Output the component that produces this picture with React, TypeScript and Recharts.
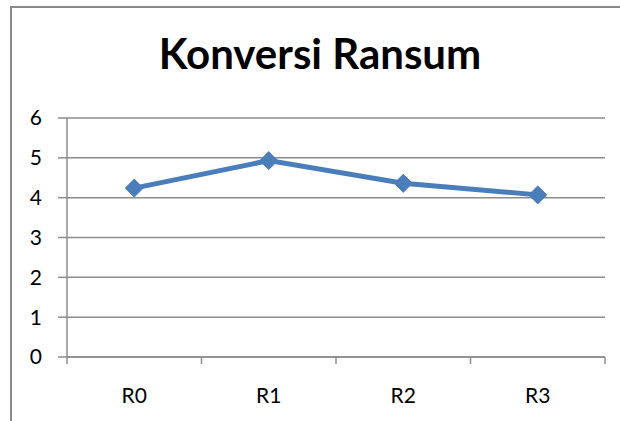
import React from 'react';
import { LineChart, Line, XAxis, YAxis, CartesianGrid } from 'recharts';

const categories = ['R0', 'R1', 'R2', 'R3'];
const konversi = [4.24, 4.93, 4.36, 4.07];
const yTicks = [0, 1, 2, 3, 4, 5, 6];
const edgeTicks = [0, 1, 2, 3, 4];

const data = categories.map((name, i) => ({ name, value: konversi[i], edge: i }));

const FONT = 'Lato, "Open Sans", sans-serif';
const GRID = '#8c8c8c';
const BLUE = '#4a7ebb';

const Diamond = (props: any) => {
  const { cx, cy } = props;
  if (cx == null || cy == null) return null;
  const r = 9;
  return (
    <path
      d={`M${cx},${cy - r} L${cx + r},${cy} L${cx},${cy + r} L${cx - r},${cy} Z`}
      fill={BLUE}
      stroke={BLUE}
    />
  );
};

export default function App() {
  return (
    <div style={{ position: 'absolute', left: 0, top: 0, width: 620, height: 421, background: '#fff', overflow: 'hidden' }}>
      <div
        style={{
          position: 'absolute',
          left: 10,
          top: 6,
          width: 700,
          height: 500,
          borderLeft: '2px solid #8a8a8a',
          borderTop: '2px solid #8a8a8a',
        }}
      />
      <div
        style={{
          position: 'absolute',
          left: 0,
          top: 27,
          width: 640,
          textAlign: 'center',
          fontFamily: FONT,
          fontWeight: 700,
          fontSize: 42,
          lineHeight: '52px',
          color: '#000',
        }}
      >
        Konversi Ransum
      </div>
      <div style={{ position: 'absolute', left: 0, top: 0 }}>
        <LineChart width={620} height={421} data={data} margin={{ top: 118, right: 15, bottom: 0, left: 0 }}>
          <CartesianGrid vertical={false} stroke={GRID} strokeWidth={1.5} xAxisId="zcat" />
          <XAxis
            xAxisId="a0"
            type="number"
            dataKey="edge"
            domain={[0, 4]}
            ticks={edgeTicks}
            height={1}
            tickFormatter={() => ''}
            tickSize={7}
            stroke={GRID}
            strokeWidth={1.5}
          />
          <XAxis
            xAxisId="zcat"
            dataKey="name"
            scale="band"
            height={63}
            axisLine={false}
            tickLine={false}
            tickMargin={24}
            tick={{ fill: '#000', fontSize: 21, fontFamily: FONT }}
          />
          <YAxis
            domain={[0, 6]}
            ticks={yTicks}
            width={67}
            tickSize={9}
            tickMargin={16}
            stroke={GRID}
            strokeWidth={1.5}
            tick={{ fill: '#000', fontSize: 21, fontFamily: FONT }}
          />
          <Line
            xAxisId="zcat"
            dataKey="value"
            stroke={BLUE}
            strokeWidth={5}
            dot={<Diamond />}
            activeDot={false}
            isAnimationActive={false}
          />
        </LineChart>
      </div>
    </div>
  );
}
